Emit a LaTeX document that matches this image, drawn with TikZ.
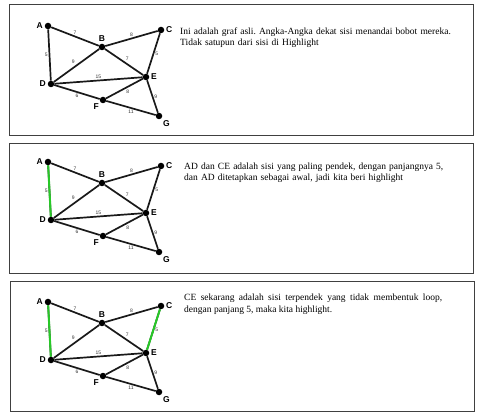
\documentclass[tikz,border=0pt]{standalone}
\usepackage{fontspec}
\setmainfont{Liberation Serif}
\setsansfont{Liberation Sans}
\usetikzlibrary{quotes}
\definecolor{hijau}{RGB}{40,200,40}
\frenchspacing

\begin{document}
\begin{tikzpicture}[x=1pt,y=-1pt,
    kotak/.style={draw=black!75, line width=1pt},
    titik/.style={circle, fill=black, inner sep=0pt, minimum size=6.5pt},
    every label/.style={font=\sffamily\bfseries\fontsize{8.5}{9}\selectfont, inner sep=1.5pt},
    bobot/.style={font=\sffamily\fontsize{5}{5}\selectfont, text=black!80, inner sep=1pt},
    sorot/.style={draw=hijau, line width=2pt},
    teks/.style={anchor=north west, inner sep=0pt, font=\fontsize{9.5}{11.3}\selectfont}]
    \useasboundingbox (0,0) rectangle (480,417);

        % frames
        \draw[kotak] (9,5) rectangle (473,136);
        \draw[kotak] (9,144) rectangle (473,274);
        \draw[kotak] (10,282) rectangle (474,411);

        % the same graph in every frame, A is the origin
        \foreach \k/\yy in {1/26,2/162,3/302}{
        \begin{scope}[shift={(48,\yy)}]
        \node[titik, label=left:A] (A\k) at (0,0) {};
        \node[titik, label=above:B] (B\k) at (54,21) {};
        \node[titik, label=right:C] (C\k) at (113,4) {};
        \node[titik, label=left:D] (D\k) at (3,58) {};
        \node[titik, label=right:E] (E\k) at (98,51) {};
        \node[titik, label=below left:F] (F\k) at (55,74) {};
        \node[titik, label=below right:G] (G\k) at (111,90) {};

        % edges with weights
        \begin{scope}[every edge/.style={draw=black!90, line width=1.7pt},
                  every edge quotes/.style={bobot}]
        \path (A\k) edge["7" above] (B\k);
        \path (B\k) edge["8" above] (C\k);
        \path (A\k) edge["5" left] (D\k);
        \path (B\k) edge["9" above left] (D\k);
        \path (B\k) edge["7" above right] (E\k);
        \path (C\k) edge["5" right] (E\k);
        \path (D\k) edge["15" above] (E\k);
        \path (D\k) edge["6" below] (F\k);
        \path (E\k) edge["8" below right] (F\k);
        \path (E\k) edge["9" right] (G\k);
        \path (F\k) edge["11" below] (G\k);
        \end{scope}
        \end{scope}
        }

        % highlighted edges
        \draw[sorot] (A2) -- (D2);
        \draw[sorot] (A3) -- (D3);
        \draw[sorot] (C3) -- (E3);

        % texts
        \node[teks, text width=275pt, align=left] (t1) at (180,27.5)
            {Ini adalah graf asli. Angka-Angka dekat sisi menandai bobot mereka.\\Tidak satupun dari sisi di Highlight};
        \node[teks, text width=275pt, align=left] (t2) at (184,162.4)
            {AD dan CE adalah sisi yang paling pendek, dengan panjangnya 5,\\dan AD ditetapkan sebagai awal, jadi kita beri highlight};
        \node[teks, text width=258pt, align=justify] (t3) at (184,294)
            {CE sekarang adalah sisi terpendek yang tidak membentuk loop,\linebreak dengan panjang 5, maka kita highlight.};

\end{tikzpicture}
\end{document}
